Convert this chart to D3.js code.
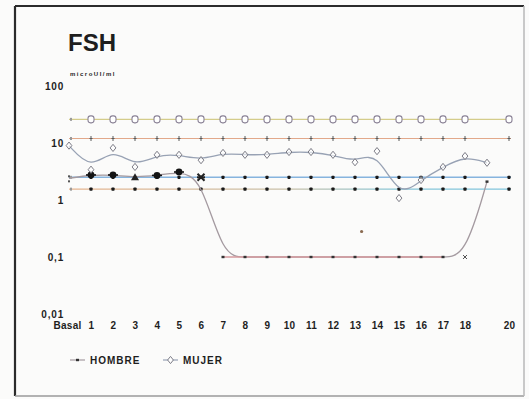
<!DOCTYPE html>
<html>
<head>
<meta charset="utf-8">
<script src="https://cdn.jsdelivr.net/npm/d3@7/dist/d3.min.js"></script>
<style>
  html, body { margin: 0; padding: 0; background: #fbfbfa; }
  svg { display: block; }
  text { font-family: "Liberation Sans", Arial, sans-serif; fill: #1e1e1e; }
</style>
</head>
<body>
<svg id="chart" width="529" height="399"></svg>
<script>
// Días de muestreo (el 19 no lleva rótulo)
const diasRotulo = [0, 1, 2, 3, 4, 5, 6, 7, 8, 9, 10, 11, 12, 13, 14, 15, 16, 17, 18, 20];
const diasCurva  = [0, 1, 2, 3, 4, 5, 6, 7, 8, 9, 10, 11, 12, 13, 14, 15, 16, 17, 18, 19];

// FSH (microUI/ml) por día
const hombre = [2.4, 2.75, 2.75, 2.5, 2.7, 3.1, 2.5, 0.1, 0.1, 0.1, 0.1, 0.1, 0.1, 0.1, 0.1, 0.1, 0.1, 0.1, 0.1, 2.1];
const mujer  = [9, 3.4, 8.2, 3.8, 6.2, 6.2, 5.0, 6.7, 6.2, 6.2, 6.95, 6.95, 6.2, 4.6, 7.2, 1.08, 2.24, 3.8, 5.9, 4.5];

// Niveles de referencia (líneas horizontales)
const nivelCirculos = 26;
const nivelCruces = 12;
const nivelPuntosAlto = 2.5;
const nivelPuntosBajo = 1.55;

// Punto suelto
const puntoSuelto = [{ dia: 13.3, valor: 0.28 }];

// Escala vertical
const ticksY = [0.01, 0.1, 1, 10, 100];

const svg = d3.select("#chart");

// Marco
svg.append("line").attr("x1", 15).attr("y1", 6).attr("x2", 524).attr("y2", 6)
  .attr("stroke", "#2b2b2b").attr("stroke-width", 2);
svg.append("line").attr("x1", 15).attr("y1", 6).attr("x2", 15).attr("y2", 396)
  .attr("stroke", "#2b2b2b").attr("stroke-width", 2.2);
svg.append("line").attr("x1", 15).attr("y1", 396).attr("x2", 524).attr("y2", 396)
  .attr("stroke", "#9a9a9a").attr("stroke-width", 1.5);
svg.append("line").attr("x1", 524).attr("y1", 6).attr("x2", 524).attr("y2", 396)
  .attr("stroke", "#b8b8b8").attr("stroke-width", 1.5);

const x = d3.scaleLinear().domain([0, 20]).range([69, 509]);
const y = d3.scaleLog().domain([0.01, 100]).range([314, 86]);

// Gradiente para la línea inferior de puntos
const defs = svg.append("defs");
const grad = defs.append("linearGradient").attr("id", "gradBajo")
  .attr("gradientUnits", "userSpaceOnUse")
  .attr("x1", x(0)).attr("x2", x(20)).attr("y1", 0).attr("y2", 0);
grad.append("stop").attr("offset", "0%").attr("stop-color", "#e6b48e");
grad.append("stop").attr("offset", "50%").attr("stop-color", "#c8c0a8");
grad.append("stop").attr("offset", "75%").attr("stop-color", "#86c6d8");
grad.append("stop").attr("offset", "100%").attr("stop-color", "#80c4dc");

// Título y unidad
svg.append("text").attr("x", 68).attr("y", 51)
  .style("font-size", "24px").style("font-weight", "bold").text("FSH");
svg.append("text").attr("x", 70).attr("y", 76)
  .style("font-size", "6px").style("font-weight", "bold").style("letter-spacing", "1.5px")
  .text("microUI/ml");

// Eje Y
const ejeY = svg.append("g").attr("transform", "translate(67,0)")
  .call(d3.axisLeft(y).tickValues(ticksY).tickSize(0).tickPadding(3)
    .tickFormat(d => String(d).replace(".", ",")));
ejeY.select(".domain").remove();
ejeY.selectAll("text").style("font-family", "'Liberation Sans', Arial, sans-serif")
  .style("font-size", "10px").style("font-weight", "bold").style("letter-spacing", "0.8px")
  .attr("fill", "#1e1e1e");

// Eje X
const ejeX = svg.append("g").attr("transform", "translate(0,322)")
  .call(d3.axisBottom(x).tickValues(diasRotulo).tickSize(0).tickPadding(0)
    .tickFormat(d => d === 0 ? "Basal" : String(d)));
ejeX.select(".domain").remove();
ejeX.selectAll("text").style("font-family", "'Liberation Sans', Arial, sans-serif")
  .style("font-size", "10px").style("font-weight", "bold").style("letter-spacing", "0.3px")
  .attr("fill", "#1e1e1e");
ejeX.selectAll(".tick").filter(d => d === 0).select("text").attr("dx", "-2px");

// Líneas de referencia
function lineaNivel(valor, color, ancho) {
  svg.append("line")
    .attr("x1", x(0)).attr("x2", x(20) + 2)
    .attr("y1", y(valor)).attr("y2", y(valor))
    .attr("stroke", color).attr("stroke-width", ancho);
}
lineaNivel(nivelCirculos, "#d4cc8a", 1.2);
lineaNivel(nivelCruces, "#e2a88a", 1.2);
lineaNivel(nivelPuntosAlto, "#86b4de", 1.6);
lineaNivel(nivelPuntosBajo, "url(#gradBajo)", 1.4);

const diasMarcas = diasRotulo.filter(d => d > 0);

// Marcas de nivel en el día basal
[nivelCirculos, nivelCruces, nivelPuntosAlto, nivelPuntosBajo].forEach(v => {
  svg.append("rect").attr("x", x(0) + 1).attr("y", y(v) - 1.5)
    .attr("width", 2).attr("height", 3).attr("fill", "#9a9a9a");
});

// Círculos
svg.append("g").selectAll("rect").data(diasMarcas).join("rect")
  .attr("x", d => x(d) - 3).attr("y", y(nivelCirculos) - 3.5)
  .attr("width", 6).attr("height", 7).attr("rx", 2.5)
  .attr("fill", "#fff").attr("stroke", "#8a8296").attr("stroke-width", 1.1);

// Cruces
const gCruces = svg.append("g").attr("stroke", "#5a5a5a").attr("stroke-width", 1);
gCruces.selectAll("line.v").data(diasMarcas).join("line").attr("class", "v")
  .attr("x1", d => x(d)).attr("x2", d => x(d))
  .attr("y1", y(nivelCruces) - 2.5).attr("y2", y(nivelCruces) + 2.5);
gCruces.selectAll("line.h").data(diasMarcas).join("line").attr("class", "h")
  .attr("x1", d => x(d) - 1.5).attr("x2", d => x(d) + 1.5)
  .attr("y1", y(nivelCruces)).attr("y2", y(nivelCruces));

// Puntos
[nivelPuntosAlto, nivelPuntosBajo].forEach(v => {
  svg.append("g").selectAll("rect").data(diasMarcas).join("rect")
    .attr("x", d => x(d) - 1.6).attr("y", y(v) - 1.6)
    .attr("width", 3.2).attr("height", 3.2).attr("rx", 0.8)
    .attr("fill", "#1a1a1a");
});

// Curvas de hombre y mujer
const serieH = diasCurva.map((d, i) => ({ dia: d, valor: hombre[i] }));
const serieM = diasCurva.map((d, i) => ({ dia: d, valor: mujer[i] }));
const curva = d3.line().x(d => x(d.dia)).y(d => y(d.valor)).curve(d3.curveBasis);

svg.append("path").datum(serieM).attr("d", curva)
  .attr("fill", "none").attr("stroke", "#98a2b4").attr("stroke-width", 1.3);
svg.append("path").datum(serieH).attr("d", curva)
  .attr("fill", "none").attr("stroke", "#a49aa0").attr("stroke-width", 1.3);

// Tramo bajo de hombre en tono rosado
const tramoBajo = serieH.filter(d => d.dia >= 7 && d.dia <= 17);
svg.append("path").datum(tramoBajo)
  .attr("d", d3.line().x(d => x(d.dia)).y(d => y(d.valor)))
  .attr("fill", "none").attr("stroke", "#d69a9e").attr("stroke-width", 1.3);

// Marcadores de hombre
const gH = svg.append("g");
serieH.forEach(d => {
  const cx = x(d.dia), cy = y(d.valor);
  if (d.dia === 0) {
    gH.append("rect").attr("x", cx - 1).attr("y", cy - 3).attr("width", 2).attr("height", 2).attr("fill", "#555");
    gH.append("rect").attr("x", cx - 1).attr("y", cy + 2).attr("width", 2).attr("height", 2).attr("fill", "#555");
  } else if (d.dia === 3) {
    gH.append("path").attr("d", `M${cx},${cy - 4}L${cx + 4},${cy + 3}L${cx - 4},${cy + 3}Z`)
      .attr("fill", "#222");
  } else if (d.dia === 6) {
    gH.append("path").attr("d", `M${cx - 3.5},${cy - 3.5}L${cx + 3.5},${cy + 3.5}M${cx + 3.5},${cy - 3.5}L${cx - 3.5},${cy + 3.5}`)
      .attr("stroke", "#222").attr("stroke-width", 2);
    gH.append("rect").attr("x", cx - 4).attr("y", cy - 1).attr("width", 8).attr("height", 2).attr("fill", "#222");
  } else if (d.dia === 18) {
    gH.append("path").attr("d", `M${cx - 2},${cy - 2}L${cx + 2},${cy + 2}M${cx + 2},${cy - 2}L${cx - 2},${cy + 2}`)
      .attr("stroke", "#555").attr("stroke-width", 1);
  } else if (d.valor < 1 || d.dia === 19) {
    gH.append("rect").attr("x", cx - 1.5).attr("y", cy - 1.2).attr("width", 3).attr("height", 2.4)
      .attr("fill", "#333");
  } else {
    gH.append("circle").attr("cx", cx).attr("cy", cy).attr("r", 3.4).attr("fill", "#141414");
    gH.append("rect").attr("x", cx - 5).attr("y", cy - 0.8).attr("width", 10).attr("height", 1.6).attr("fill", "#141414");
  }
});

// Marcadores de mujer (rombos)
const rombo = (cx, cy, r) => `M${cx},${cy - r}L${cx + r * 0.8},${cy}L${cx},${cy + r}L${cx - r * 0.8},${cy}Z`;
svg.append("g").selectAll("path").data(serieM).join("path")
  .attr("d", d => rombo(x(d.dia), y(d.valor), 3.6))
  .attr("fill", "#fff").attr("fill-opacity", 0.6)
  .attr("stroke", "#7c7c86").attr("stroke-width", 1);

// Punto suelto
svg.append("g").selectAll("circle").data(puntoSuelto).join("circle")
  .attr("cx", d => x(d.dia)).attr("cy", d => y(d.valor)).attr("r", 1.6)
  .attr("fill", "#8a6a50");

// Leyenda
const leyenda = svg.append("g").attr("transform", "translate(0,360)");
leyenda.append("line").attr("x1", 70).attr("x2", 85).attr("y1", 0).attr("y2", 0)
  .attr("stroke", "#a49aa0").attr("stroke-width", 1.2);
leyenda.append("rect").attr("x", 76).attr("y", -1.2).attr("width", 3).attr("height", 2.4).attr("fill", "#333");
leyenda.append("text").attr("x", 90).attr("y", 3.6)
  .style("font-size", "10px").style("font-weight", "bold").style("letter-spacing", "1px").text("HOMBRE");
leyenda.append("line").attr("x1", 163).attr("x2", 178).attr("y1", 0).attr("y2", 0)
  .attr("stroke", "#98a2b4").attr("stroke-width", 1.2);
leyenda.append("path").attr("d", rombo(170.5, 0, 3.6))
  .attr("fill", "#fff").attr("stroke", "#7c7c86").attr("stroke-width", 1);
leyenda.append("text").attr("x", 183).attr("y", 3.6)
  .style("font-size", "10px").style("font-weight", "bold").style("letter-spacing", "1px").text("MUJER");
</script>
</body>
</html>
